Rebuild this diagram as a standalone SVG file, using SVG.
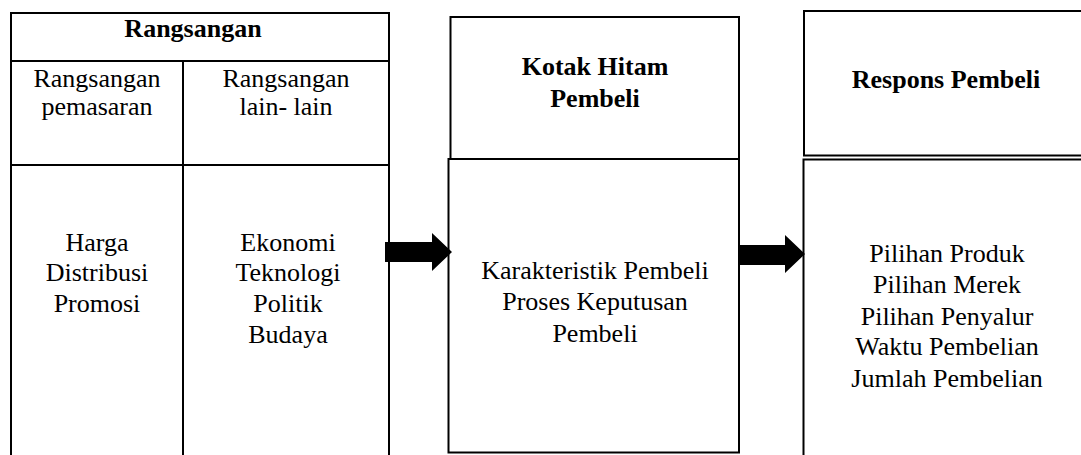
<svg xmlns="http://www.w3.org/2000/svg" width="1081" height="455" viewBox="0 0 1081 455">
<style>
.ln{fill:none;stroke:#000;stroke-width:2}
.t{font-family:"Liberation Serif","Times New Roman",serif;font-size:26px;fill:#000;text-anchor:middle}
.b{font-weight:bold}
.ar{fill:#000}
</style>
<rect width="1081" height="455" fill="#fff"/>
<g id="rangsangan">
<path class="ln" d="M11,456 V13 H389 V456 M11,61 H389 M11,165 H389 M183,61 V456"/>
<text class="t b" x="193" y="37">Rangsangan</text>
<text class="t" x="97" y="87">Rangsangan</text>
<text class="t" x="97" y="115">pemasaran</text>
<text class="t" x="286" y="87">Rangsangan</text>
<text class="t" x="286" y="115">lain- lain</text>
<text class="t" x="97" y="251">Harga</text>
<text class="t" x="97" y="281">Distribusi</text>
<text class="t" x="97" y="312">Promosi</text>
<text class="t" x="288" y="251">Ekonomi</text>
<text class="t" x="288" y="281">Teknologi</text>
<text class="t" x="288" y="312">Politik</text>
<text class="t" x="288" y="343">Budaya</text>
</g>
<g id="kotak-hitam">
<rect class="ln" x="450.5" y="17" width="288.5" height="142"/>
<rect class="ln" x="448.5" y="159" width="290.5" height="293.5"/>
<text class="t b" x="595" y="75">Kotak Hitam</text>
<text class="t b" x="595" y="107">Pembeli</text>
<text class="t" x="595" y="279">Karakteristik Pembeli</text>
<text class="t" x="595" y="310">Proses Keputusan</text>
<text class="t" x="595" y="342">Pembeli</text>
</g>
<g id="respons">
<path class="ln" d="M1083,11 H804 V155.5 H1083 M1083,159.5 H803.5 V456"/>
<text class="t b" x="946" y="88">Respons Pembeli</text>
<text class="t" x="947" y="262">Pilihan Produk</text>
<text class="t" x="947" y="293">Pilihan Merek</text>
<text class="t" x="947" y="325">Pilihan Penyalur</text>
<text class="t" x="947" y="355">Waktu Pembelian</text>
<text class="t" x="947" y="387">Jumlah Pembelian</text>
</g>
<g id="connectors">
<polygon class="ar" points="385,242 432,242 432,233 452,252 432,271 432,262 385,262"/>
<polygon class="ar" points="738,245 785,245 785,235 805,254 785,273 785,265 738,265"/>
</g>
</svg>
